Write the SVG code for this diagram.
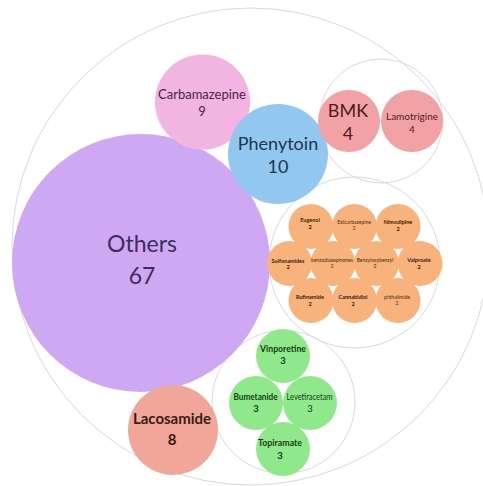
<svg xmlns="http://www.w3.org/2000/svg" width="483" height="486" viewBox="0 0 483 486">
<style>
  text { font-family: Lato, "Open Sans", "Liberation Sans", sans-serif; text-anchor: middle; }
  .ring { fill: none; stroke: #d9d9d9; stroke-width: 1; }
  .others { fill: #cfa8f4; }
  .carb { fill: #f2b4e0; }
  .phen { fill: #92c8ef; }
  .pinkred { fill: #f2a2a4; }
  .laco { fill: #f0a698; }
  .orange { fill: #f8b27c; }
  .green { fill: #8fe98b; }
  .tOthers { fill: #3e2b5e; font-size: 23px; }
  .tCarb { fill: #4a2440; font-size: 13px; }
  .tPhen { fill: #1d3550; font-size: 18px; }
  .tBmk { fill: #4e1c1c; font-size: 18px; }
  .tLam { fill: #4e1c1c; font-size: 10px; }
  .tLaco { fill: #3a1a14; font-size: 15px; font-weight: bold; }
  .tOr { fill: #4a2a10; font-size: 5px; }
  .tOrB { fill: #3a2008; font-size: 5.5px; font-weight: bold; }
  .tGr { fill: #173a17; font-size: 9.5px; }
  .tGrB { fill: #173a17; font-size: 9.5px; font-weight: bold; }
</style>
<rect width="483" height="486" fill="#ffffff"/>
<g id="containers">
  <circle class="ring" cx="250.5" cy="246.5" r="238.5"/>
  <circle class="ring" cx="381" cy="121" r="62"/>
  <circle class="ring" cx="354.5" cy="262.5" r="85.5"/>
  <circle class="ring" cx="283.5" cy="402" r="71.5"/>
</g>
<g id="connectors"/>
<g id="others">
  <circle class="others" cx="141" cy="263" r="129"/>
  <text class="tOthers" x="142" y="252">Others</text>
  <text class="tOthers" x="142" y="284">67</text>
</g>
<g id="carbamazepine">
  <circle class="carb" cx="202.5" cy="102" r="47.5"/>
  <text class="tCarb" x="202" y="99">Carbamazepine</text>
  <text class="tCarb" x="202" y="116">9</text>
</g>
<g id="phenytoin">
  <circle class="phen" cx="278" cy="154" r="50"/>
  <text class="tPhen" x="278" y="150">Phenytoin</text>
  <text class="tPhen" x="278" y="173">10</text>
</g>
<g id="bmk">
  <circle class="pinkred" cx="349" cy="121" r="31"/>
  <text class="tBmk" x="348" y="117">BMK</text>
  <text class="tBmk" x="348" y="140">4</text>
</g>
<g id="lamotrigine">
  <circle class="pinkred" cx="412" cy="121" r="31"/>
  <text class="tLam" x="412" y="120">Lamotrigine</text>
  <text class="tLam" x="412" y="133">4</text>
</g>
<g id="eugenol">
  <circle class="orange" cx="311" cy="226.5" r="22.5"/>
  <text class="tOrB" x="310" y="222">Eugenol</text>
  <text class="tOrB" x="310" y="229">2</text>
</g>
<g id="eslicarbazepine">
  <circle class="orange" cx="354.5" cy="226.5" r="22.5"/>
  <text class="tOr" x="354" y="224">Eslicarbazepine</text>
  <text class="tOr" x="354" y="230">2</text>
</g>
<g id="nimodipine">
  <circle class="orange" cx="398" cy="226.5" r="22.5"/>
  <text class="tOrB" x="398" y="224">Nimodipine</text>
  <text class="tOrB" x="398" y="231">2</text>
</g>
<g id="sulfonamides">
  <circle class="orange" cx="289.5" cy="263.5" r="22.5"/>
  <text class="tOrB" x="288" y="263">Sulfonamides</text>
  <text class="tOrB" x="288" y="269">2</text>
</g>
<g id="benzodiazepinones">
  <circle class="orange" cx="333" cy="263.5" r="22.5"/>
  <text class="tOr" x="332" y="262">benzodiazepinones</text>
  <text class="tOr" x="332" y="268">2</text>
</g>
<g id="benzyloxybenzyl">
  <circle class="orange" cx="376.5" cy="263.5" r="22.5"/>
  <text class="tOr" x="375" y="262">Benzyloxybenzyl</text>
  <text class="tOr" x="375" y="268">2</text>
</g>
<g id="valproate">
  <circle class="orange" cx="420" cy="263.5" r="22.5"/>
  <text class="tOrB" x="419" y="262">Valproate</text>
  <text class="tOrB" x="419" y="269">2</text>
</g>
<g id="rufinamide">
  <circle class="orange" cx="311" cy="300.5" r="22.5"/>
  <text class="tOrB" x="310" y="299">Rufinamide</text>
  <text class="tOrB" x="310" y="306">2</text>
</g>
<g id="cannabidiol">
  <circle class="orange" cx="354.5" cy="300.5" r="22.5"/>
  <text class="tOrB" x="353" y="299">Cannabidiol</text>
  <text class="tOrB" x="353" y="306">2</text>
</g>
<g id="phthalimide">
  <circle class="orange" cx="398" cy="300.5" r="22.5"/>
  <text class="tOr" x="397" y="299">phthalimide</text>
  <text class="tOr" x="397" y="305">2</text>
</g>
<g id="vinpocetine">
  <circle class="green" cx="283" cy="356" r="27"/>
  <text class="tGrB" x="283" y="352" textLength="46" lengthAdjust="spacingAndGlyphs">Vinporetine</text>
  <text class="tGrB" x="283" y="364">3</text>
</g>
<g id="bumetanide">
  <circle class="green" cx="256" cy="403" r="27"/>
  <text class="tGrB" x="255.5" y="400" textLength="44" lengthAdjust="spacingAndGlyphs">Bumetanide</text>
  <text class="tGrB" x="256" y="412">3</text>
</g>
<g id="levetiracetam">
  <circle class="green" cx="310" cy="403" r="27"/>
  <text class="tGr" x="309.5" y="400" textLength="46" lengthAdjust="spacingAndGlyphs">Levetiracetam</text>
  <text class="tGr" x="310" y="412">3</text>
</g>
<g id="topiramate">
  <circle class="green" cx="283" cy="449" r="27"/>
  <text class="tGrB" x="280" y="446" textLength="44" lengthAdjust="spacingAndGlyphs">Topiramate</text>
  <text class="tGrB" x="280" y="459">3</text>
</g>
<g id="lacosamide">
  <circle class="laco" cx="173" cy="430" r="45"/>
  <text class="tLaco" x="172" y="424">Lacosamide</text>
  <text class="tLaco" x="172" y="445">8</text>
</g>
</svg>
